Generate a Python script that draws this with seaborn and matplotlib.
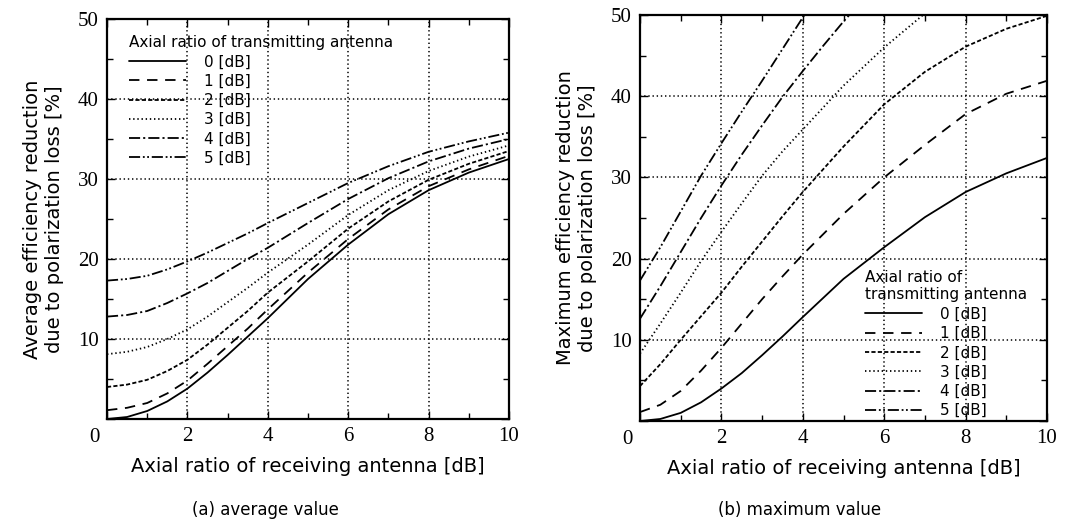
import numpy as np
import pandas as pd
import matplotlib
matplotlib.use("Agg")
import matplotlib.pyplot as plt
from matplotlib.ticker import MultipleLocator
import seaborn as sns

# ---------------- data ----------------
tx_labels = ["0 [dB]", "1 [dB]", "2 [dB]", "3 [dB]", "4 [dB]", "5 [dB]"]

# (a) average value
x_avg = [0, 0.5, 1, 1.5, 2, 2.5, 3, 3.5, 4, 5, 6, 7, 8, 9, 10]
avg_0 = [0.0, 0.25, 1.0, 2.2, 3.8, 5.8, 8.0, 10.3, 12.6, 17.5, 21.8, 25.6, 28.6, 30.8, 32.5]
avg_1 = [1.1, 1.4, 2.0, 3.2, 4.8, 6.9, 9.1, 11.3, 13.7, 18.3, 22.5, 26.2, 29.1, 31.2, 32.9]
avg_2 = [4.0, 4.3, 4.9, 6.0, 7.4, 9.3, 11.4, 13.5, 15.8, 19.7, 23.8, 27.2, 29.9, 31.9, 33.5]
avg_3 = [8.1, 8.4, 9.0, 10.0, 11.2, 12.8, 14.6, 16.4, 18.3, 21.8, 25.5, 28.6, 31.0, 32.8, 34.2]
avg_4 = [12.8, 13.0, 13.5, 14.5, 15.7, 17.0, 18.5, 20.0, 21.4, 24.5, 27.5, 30.1, 32.2, 33.8, 35.0]
avg_5 = [17.3, 17.5, 17.9, 18.7, 19.7, 20.8, 22.0, 23.2, 24.5, 27.0, 29.5, 31.6, 33.4, 34.7, 35.8]

# (b) maximum value
x_max_0 = [0, 0.5, 1, 1.5, 2, 2.5, 3, 3.5, 4, 5, 6, 7, 8, 9, 10]
max_0 = [0.0, 0.25, 1.0, 2.3, 4.0, 5.9, 8.1, 10.4, 12.8, 17.5, 21.4, 25.1, 28.2, 30.5, 32.4]
x_max_1 = [0, 0.5, 1, 1.5, 2, 2.5, 3, 3.5, 4, 5, 6, 7, 8, 9, 10]
max_1 = [1.1, 2.0, 3.7, 6.2, 9.0, 12.0, 15.0, 17.8, 20.5, 25.5, 30.0, 34.0, 37.8, 40.3, 41.9]
x_max_2 = [0, 0.5, 1, 1.5, 2, 2.5, 3, 3.5, 4, 5, 6, 7, 8, 9, 10]
max_2 = [4.3, 7.0, 10.0, 12.9, 15.8, 19.0, 22.1, 25.2, 28.2, 33.8, 39.0, 43.0, 46.1, 48.3, 49.9]
x_max_3 = [0, 0.5, 1, 1.5, 2, 2.5, 3, 3.5, 4, 5, 6, 7]
max_3 = [8.3, 12.0, 15.8, 19.7, 23.3, 26.8, 30.2, 33.2, 35.9, 41.3, 46.0, 50.2]
x_max_4 = [0, 0.5, 1, 1.5, 2, 2.5, 3, 3.5, 4, 4.5, 5, 5.5]
max_4 = [12.6, 16.6, 20.8, 25.0, 29.0, 32.8, 36.4, 39.9, 43.1, 46.2, 49.2, 52.0]
x_max_5 = [0, 0.5, 1, 1.5, 2, 2.5, 3, 3.5, 4, 4.5]
max_5 = [17.3, 21.4, 25.8, 30.2, 34.2, 38.1, 41.9, 45.8, 49.7, 53.4]

x_ticks = [0, 2, 4, 6, 8, 10]
y_ticks = [0, 10, 20, 30, 40, 50]

# ---------------- style ----------------
sns.set_style("white")
plt.rcParams["font.family"] = ["DejaVu Sans"]
plt.rcParams["lines.scale_dashes"] = False
for k in ["text.color", "axes.labelcolor", "xtick.color", "ytick.color"]:
    plt.rcParams[k] = "black"

line_styles = [
    "-",
    (0, (7.5, 5.5)),
    (0, (3.0, 1.6)),
    (0, (1.0, 2.0)),
    (0, (8.0, 2.2, 1.5, 2.2)),
    (0, (8.0, 2.0, 1.3, 1.8, 1.3, 2.0)),
]

fig = plt.figure(figsize=(10.65, 5.31), dpi=100)
ax_a = fig.add_axes([107 / 1065, 1 - 419 / 531, 402 / 1065, 400 / 531])
ax_b = fig.add_axes([640 / 1065, 1 - 421 / 531, 407 / 1065, 406 / 531])

avg_series = [avg_0, avg_1, avg_2, avg_3, avg_4, avg_5]
max_series = [(x_max_0, max_0), (x_max_1, max_1), (x_max_2, max_2),
              (x_max_3, max_3), (x_max_4, max_4), (x_max_5, max_5)]

for y, ls, lab in zip(avg_series, line_styles, tx_labels):
    df = pd.DataFrame({"x": x_avg, "y": y})
    sns.lineplot(data=df, x="x", y="y", ax=ax_a, color="black", linewidth=1.3,
                 linestyle=ls, label=lab, errorbar=None)

for (xx, y), ls, lab in zip(max_series, line_styles, tx_labels):
    df = pd.DataFrame({"x": xx, "y": y})
    sns.lineplot(data=df, x="x", y="y", ax=ax_b, color="black", linewidth=1.3,
                 linestyle=ls, label=lab, errorbar=None)

serif = ["Liberation Serif", "DejaVu Serif"]

for ax, ylab in [(ax_a, "Average efficiency reduction\ndue to polarization loss [%]"),
                 (ax_b, "Maximum efficiency reduction\ndue to polarization loss [%]")]:
    ax.set_xlim(0, 10)
    ax.set_ylim(0, 50)
    ax.set_xticks(x_ticks)
    ax.set_yticks(y_ticks)
    ax.xaxis.set_minor_locator(MultipleLocator(1))
    ax.yaxis.set_minor_locator(MultipleLocator(5))
    ax.set_xticklabels([""] + [str(v) for v in x_ticks[1:]], fontfamily=serif, fontsize=15)
    ax.set_yticklabels([""] + [str(v) for v in y_ticks[1:]], fontfamily=serif, fontsize=15)
    ax.annotate("0", xy=(0, 0), xycoords="axes fraction", xytext=(-13, -19),
                textcoords="offset pixels", ha="center", va="center",
                fontfamily=serif, fontsize=15)
    ax.tick_params(which="both", direction="in", top=True, right=True, bottom=True, left=True,
                   color="black", width=1.0)
    ax.tick_params(which="major", length=6, pad=6)
    ax.tick_params(which="minor", length=4)
    ax.grid(True, which="major", color="black", linestyle=(0, (1.0, 2.0)), linewidth=1.1)
    for sp in ax.spines.values():
        sp.set_visible(True)
        sp.set_color("black")
        sp.set_linewidth(1.6)
    ax.set_xlabel("Axial ratio of receiving antenna [dB]", fontsize=14, labelpad=8)
    ax.set_ylabel(ylab, fontsize=14, labelpad=10)

leg_a = ax_a.legend(title="Axial ratio of transmitting antenna", loc="upper left",
                    bbox_to_anchor=(0.04, 0.975), frameon=False, fontsize=11,
                    title_fontsize=11, handlelength=3.7, handletextpad=1.2,
                    labelspacing=0.28, borderaxespad=0, alignment="left")
leg_b = ax_b.legend(title="Axial ratio of\ntransmitting antenna", loc="lower left",
                    bbox_to_anchor=(0.538, -0.008), frameon=False, fontsize=11,
                    title_fontsize=11, handlelength=3.7, handletextpad=1.2,
                    labelspacing=0.28, borderaxespad=0, alignment="left")

fig.text(265 / 1065, 1 - 510 / 531, "(a) average value", ha="center", va="center", fontsize=12)
fig.text(800 / 1065, 1 - 510 / 531, "(b) maximum value", ha="center", va="center", fontsize=12)

fig.savefig("out.png", dpi=100)
